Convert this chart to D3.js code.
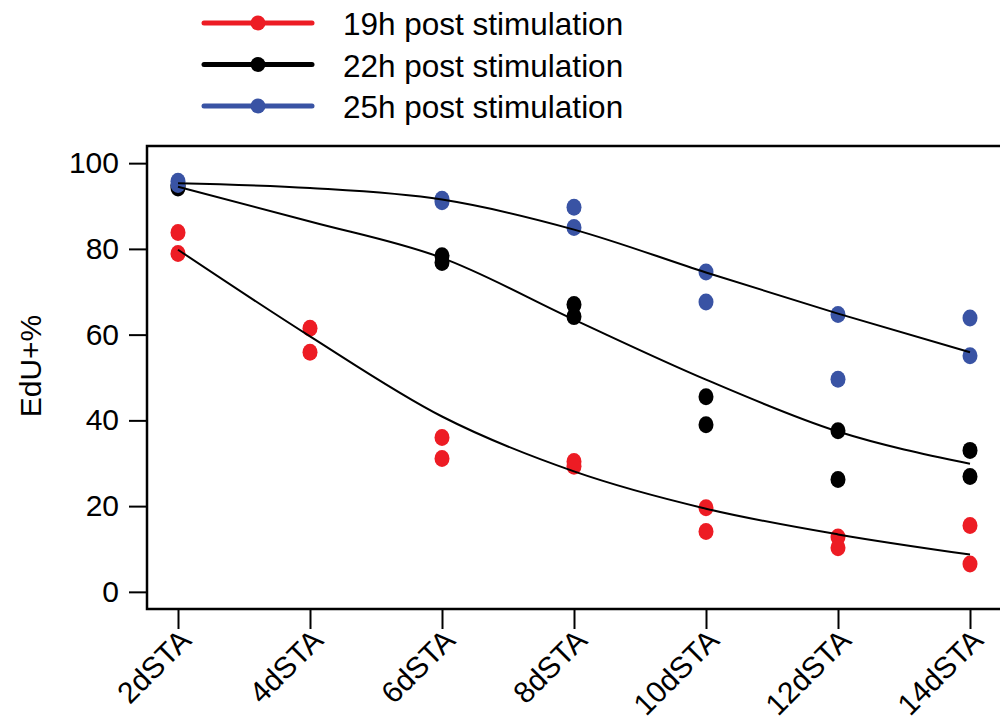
<!DOCTYPE html>
<html>
<head>
<meta charset="utf-8">
<script src="https://cdn.jsdelivr.net/npm/d3@7"></script>
<style>
  body { margin: 0; background: #fff; }
  svg text { font-family: "Liberation Sans", Arial, Helvetica, sans-serif; fill: #000; }
</style>
</head>
<body>
<svg id="chart" width="1000" height="722"></svg>
<script>
// days after stimulation (x categories)
const days = ["2dSTA", "4dSTA", "6dSTA", "8dSTA", "10dSTA", "12dSTA", "14dSTA"];
const yTicks = [0, 20, 40, 60, 80, 100];

// replicate points, [day, value]
const pts19h = [
  ["2dSTA", 83.8], ["2dSTA", 78.9], ["4dSTA", 61.5], ["4dSTA", 55.9],
  ["6dSTA", 36.0], ["6dSTA", 31.1], ["8dSTA", 30.4], ["8dSTA", 29.3],
  ["10dSTA", 19.6], ["10dSTA", 14.1], ["12dSTA", 12.8], ["12dSTA", 10.3],
  ["14dSTA", 15.5], ["14dSTA", 6.5]
];
const pts22h = [
  ["2dSTA", 94.8], ["2dSTA", 94.2], ["6dSTA", 78.4], ["6dSTA", 76.8],
  ["8dSTA", 67.0], ["8dSTA", 64.2], ["10dSTA", 45.5], ["10dSTA", 39.0],
  ["12dSTA", 37.6], ["12dSTA", 26.2], ["14dSTA", 33.0], ["14dSTA", 26.9]
];
const pts25h = [
  ["2dSTA", 95.8], ["2dSTA", 95.0], ["6dSTA", 91.6], ["6dSTA", 91.0],
  ["8dSTA", 89.7], ["8dSTA", 85.0], ["10dSTA", 74.6], ["10dSTA", 67.6],
  ["12dSTA", 64.7], ["12dSTA", 49.6], ["14dSTA", 63.9], ["14dSTA", 55.1]
];

// fitted curves, one value per day
const fit19h = [79.8, 59.6, 40.9, 28.1, 19.4, 13.4, 8.7];
const fit22h = [94.5, 86.4, 77.9, 63.5, 49.5, 37.4, 29.9];
const fit25h = [95.3, 94.2, 91.5, 84.5, 74.5, 64.9, 55.9];

const series = [
  {name: "19h post stimulation", color: "#ED1C24", pts: pts19h, fit: fit19h},
  {name: "22h post stimulation", color: "#000000", pts: pts22h, fit: fit22h},
  {name: "25h post stimulation", color: "#3953A4", pts: pts25h, fit: fit25h}
];

const svg = d3.select("#chart");
const box = {left: 147, top: 146, bottom: 609, right: 1010};

const x = d3.scalePoint().domain(days).range([178, 970]);
const y = d3.scaleLinear().domain([-4, 104]).range([box.bottom, box.top]);

// frame (left, top, bottom; right side runs off the page)
svg.append("path")
    .attr("d", `M${box.right},${box.top}H${box.left}V${box.bottom}H${box.right}`)
    .attr("fill", "none")
    .attr("stroke", "#000")
    .attr("stroke-width", 2.5);

// y axis
const yAxis = d3.axisLeft(y).tickValues(yTicks).tickSize(18).tickPadding(10);
svg.append("g")
    .attr("transform", `translate(${box.left},0)`)
    .call(yAxis)
    .call(g => g.select(".domain").remove())
    .call(g => g.selectAll("line").attr("stroke-width", 2))
    .call(g => g.selectAll("text").attr("font-size", 30).attr("font-family", null));

svg.append("text")
    .attr("transform", "translate(41,366) rotate(-90)")
    .attr("text-anchor", "middle")
    .attr("font-size", 30)
    .text("EdU+%");

// x axis
const xAxis = d3.axisBottom(x).tickSize(20).tickFormat("");
svg.append("g")
    .attr("transform", `translate(0,${box.bottom})`)
    .call(xAxis)
    .call(g => g.select(".domain").remove())
    .call(g => g.selectAll("line").attr("stroke-width", 2));

svg.append("g").selectAll("text")
    .data(days)
    .join("text")
    .attr("transform", d => `translate(${x(d) + 15},${642}) rotate(-45)`)
    .attr("text-anchor", "end")
    .attr("font-size", 30)
    .text(d => d);

// points
series.forEach(s => {
    svg.append("g").selectAll("ellipse")
        .data(s.pts)
        .join("ellipse")
        .attr("cx", d => x(d[0]))
        .attr("cy", d => y(d[1]))
        .attr("rx", 7.5)
        .attr("ry", 8.5)
        .attr("fill", s.color);
});

// fitted lines on top
const line = d3.line()
    .x((d, i) => x(days[i]))
    .y(d => y(d))
    .curve(d3.curveMonotoneX);

series.forEach(s => {
    svg.append("path")
        .attr("d", line(s.fit))
        .attr("fill", "none")
        .attr("stroke", "#000")
        .attr("stroke-width", 2);
});

// legend
const legend = svg.append("g").selectAll("g")
    .data(series)
    .join("g")
    .attr("transform", (d, i) => `translate(0,${23 + i * 41.5})`);
legend.append("line")
    .attr("x1", 204).attr("x2", 312)
    .attr("stroke", d => d.color)
    .attr("stroke-width", 5)
    .attr("stroke-linecap", "round");
legend.append("circle")
    .attr("cx", 258).attr("r", 7.5)
    .attr("fill", d => d.color);
legend.append("text")
    .attr("x", 343).attr("y", 12)
    .attr("font-size", 31.5)
    .text(d => d.name);
</script>
</body>
</html>
